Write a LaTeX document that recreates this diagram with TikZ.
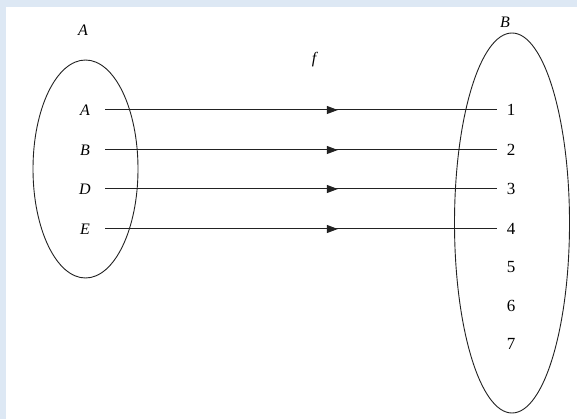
\documentclass[tikz,border=0pt]{standalone}
\usepackage{fontspec}
\setmainfont{Liberation Serif}
\usetikzlibrary{arrows.meta,shapes.geometric,decorations.markings}
\definecolor{bgblue}{HTML}{DDE8F4}
\definecolor{ink}{HTML}{222222}
\tikzset{
  setshape/.style={ellipse,draw=ink,line width=0.9pt,inner sep=0pt},
  title/.style={font=\fontsize{16}{18}\selectfont\itshape,inner sep=0pt},
  leftlbl/.style={font=\fontsize{16}{18}\selectfont\itshape,minimum width=40pt,inner sep=0pt},
  rightlbl/.style={font=\fontsize{17}{19}\selectfont,minimum width=28pt,inner sep=0pt},
  mapline/.style={draw=ink,line width=1pt,postaction={decorate},
    decoration={markings,mark=at position 0.594 with {\arrow{Triangle[length=11pt,width=8pt]}}}}
}
\begin{document}
\begin{tikzpicture}[x=1pt,y=-1pt]
\useasboundingbox (0,0) rectangle (577,419);
\fill[bgblue] (0,0) rectangle (577,419);
\fill[white] (6,7) rectangle (577,419);
\node[setshape,minimum width=105pt,minimum height=218pt] (setA) at (85.5,169) {};
\node[setshape,minimum width=115pt,minimum height=380pt] (setB) at (512,223) {};
\node[title] (tA) at (83,30) {A};
\node[title] (tB) at (505,22) {B};
\node[title] (tf) at (314,60) {f};
\node[leftlbl] (lA) at (85,110) {A};
\node[leftlbl] (lB) at (85,150) {B};
\node[leftlbl] (lD) at (85,189) {D};
\node[leftlbl] (lE) at (85,229) {E};
\node[rightlbl] (n1) at (511,110) {1};
\node[rightlbl] (n2) at (511,150) {2};
\node[rightlbl] (n3) at (511,189) {3};
\node[rightlbl] (n4) at (511,229) {4};
\node[rightlbl] (n5) at (511,267) {5};
\node[rightlbl] (n6) at (511,306) {6};
\node[rightlbl] (n7) at (511,344) {7};
\draw[mapline] (lA.east) -- (n1.west);
\draw[mapline] (lB.east) -- (n2.west);
\draw[mapline] (lD.east) -- (n3.west);
\draw[mapline] (lE.east) -- (n4.west);
\end{tikzpicture}
\end{document}
